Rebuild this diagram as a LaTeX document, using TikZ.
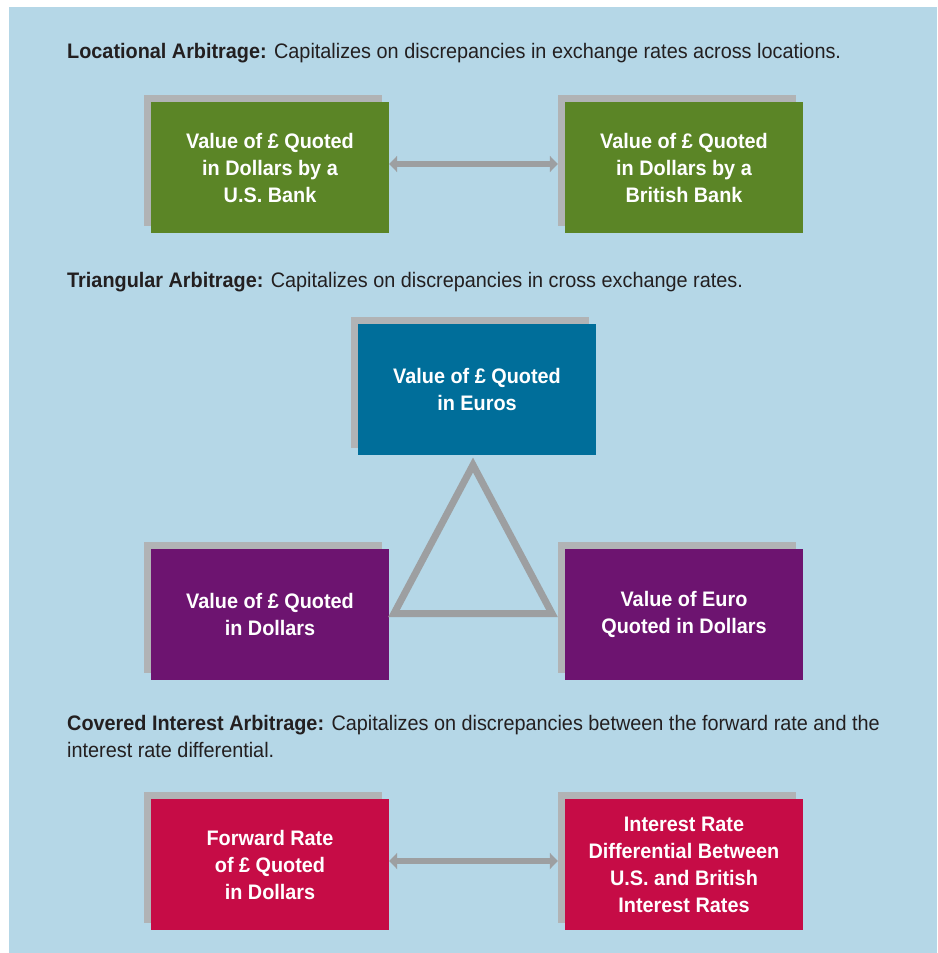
\documentclass[tikz,border=0pt]{standalone}
\usepackage{fontspec}
\setmainfont{Liberation Sans}[FakeStretch=0.945]
\usepackage{tikz}
\usetikzlibrary{arrows.meta, shadows}

\definecolor{panelblue}{HTML}{B5D7E7}
\definecolor{shadowgrey}{HTML}{B1B3B5}
\definecolor{linkgrey}{HTML}{9D9FA1}
\definecolor{inkdark}{HTML}{231F20}
\definecolor{locgreen}{HTML}{5B8526}
\definecolor{triteal}{HTML}{006E9A}
\definecolor{tripurple}{HTML}{6D1470}
\definecolor{covcrimson}{HTML}{C60C46}

\newcommand{\boxfont}{\fontsize{21}{27}\selectfont\bfseries}
\newcommand{\headfont}{\fontsize{21}{27}\selectfont}

\tikzset{
  ratebox/.style={rectangle, minimum width=238pt, minimum height=131pt, inner sep=0pt,
    text=white, align=center, font=\boxfont,
    general shadow={fill=shadowgrey, shadow xshift=-7pt, shadow yshift=7pt}},
  link/.style={draw=linkgrey, line width=6pt,
    {Triangle[width=16pt,length=8pt]}-{Triangle[width=16pt,length=8pt]}},
  heading/.style={anchor=base west, inner sep=0pt, text=inkdark, font=\headfont, align=left},
}

\begin{document}
\begin{tikzpicture}[x=1pt, y=-1pt]
    \useasboundingbox (0,0) rectangle (937,953);
    \fill[panelblue] (9,7) rectangle (937,953);

    % Locational arbitrage
    \node[heading] (lochead) at (67,58) {\textbf{Locational Arbitrage:} Capitalizes on discrepancies in exchange rates across locations.};
    \node[ratebox, fill=locgreen] (usbank) at (270,167.5) {Value of £ Quoted\\in Dollars by a\\U.S. Bank};
    \node[ratebox, fill=locgreen] (ukbank) at (684,167.5) {Value of £ Quoted\\in Dollars by a\\British Bank};
    \draw[link, shorten >=7pt] ([yshift=3.5pt]usbank.east) -- ([yshift=3.5pt]ukbank.west);

    % Triangular arbitrage
    \node[heading] (trihead) at (67,287) {\textbf{Triangular Arbitrage:} Capitalizes on discrepancies in cross exchange rates.};
    \node[ratebox, fill=triteal] (poundeuro) at (477,389.5) {Value of £ Quoted\\in Euros};
    \node[ratebox, fill=tripurple] (pounddollar) at (270,614) {Value of £ Quoted\\in Dollars};
    \node[ratebox, fill=tripurple] (eurodollar) at (684,614) {Value of Euro\\Quoted in Dollars};
    \coordinate (apex) at (473,465);
    \coordinate (baseleft) at (394,613.5);
    \coordinate (baseright) at (552,613.5);
    \draw[linkgrey, line width=7pt, miter limit=10] (apex) -- (baseleft) -- (baseright) -- cycle;

    % Covered interest arbitrage
    \node[heading] (covhead) at (67,757) {\textbf{Covered Interest Arbitrage:} Capitalizes on discrepancies between the forward rate and the\\interest rate differential.};
    \node[ratebox, fill=covcrimson] (forward) at (270,864.5) {Forward Rate\\of £ Quoted\\in Dollars};
    \node[ratebox, fill=covcrimson] (differential) at (684,864.5) {Interest Rate\\Differential Between\\U.S. and British\\Interest Rates};
    \draw[link, shorten >=7pt] ([yshift=3.5pt]forward.east) -- ([yshift=3.5pt]differential.west);
\end{tikzpicture}
\end{document}
